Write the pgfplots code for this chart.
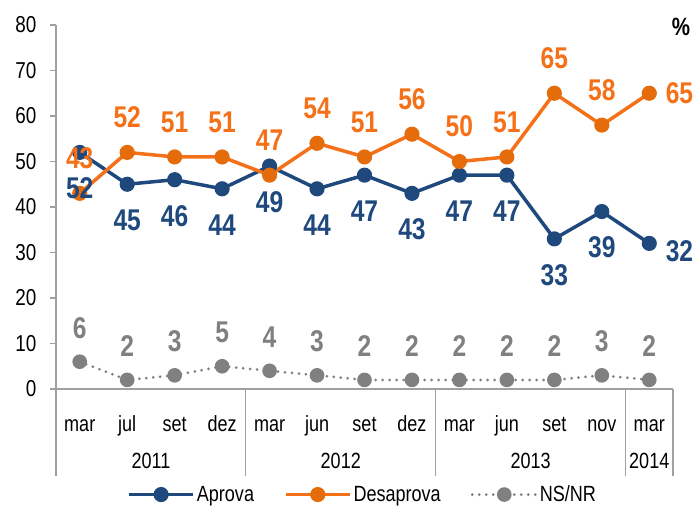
\documentclass[border=0pt]{standalone}
\usepackage{fontspec}
\setmainfont{Liberation Sans}[FakeStretch=0.82]
\usepackage{pgfplots}
\pgfplotsset{compat=1.18}
\definecolor{ablue}{RGB}{31,73,125}
\definecolor{dorange}{RGB}{245,113,25}
\definecolor{dorangem}{RGB}{228,108,10}
\definecolor{nsgray}{RGB}{128,128,128}
\definecolor{axgray}{RGB}{160,160,160}
\begin{document}
\begin{tikzpicture}
\path[use as bounding box] (-56pt,-119pt) rectangle (638pt,389pt);
\begin{axis}[
  at={(0pt,0pt)}, anchor=south west,
  scale only axis, width=617pt, height=364pt,
  xmin=-0.5, xmax=12.5, ymin=0, ymax=80,
  axis lines*=left,
  axis line style={axgray, line width=1.2pt},
  clip=false,
  xtick={0,...,12},
  xticklabels={mar,jul,set,dez,mar,jun,set,dez,mar,jun,set,nov,mar},
  x tick style={draw=none},
  xticklabel style={anchor=base, yshift=-37pt, font=\fontsize{22}{24}\selectfont},
  ytick={0,10,...,80},
  y tick style={axgray, line width=1.2pt},
  tick align=outside, major tick length=6pt,
  yticklabel style={xshift=-10pt, font=\fontsize{23}{25}\selectfont},
  /pgf/number format/assume math mode=true,
  legend style={at={(0.497,-0.29)}, anchor=center, draw=none, fill=none,
    legend columns=3, font=\fontsize{22}{24}\selectfont,
    /tikz/every even column/.append style={column sep=28pt}},
  legend image code/.code={\draw[mark repeat=2,mark phase=2,#1] plot coordinates {(0pt,0pt) (32pt,0pt) (64pt,0pt)};},
]
% Aprova
\addplot[ablue, line width=3.5pt, mark=*, mark size=5.8pt, mark options={solid}]
  coordinates {(0,52)(1,45)(2,46)(3,44)(4,49)(5,44)(6,47)(7,43)(8,47)(9,47)(10,33)(11,39)(12,32)};
\addlegendentry{Aprova}
% Desaprova
\addplot[dorange, line width=3.5pt, mark=*, mark size=5.8pt, mark options={solid, fill=dorangem, draw=dorangem}]
  coordinates {(0,43)(1,52)(2,51)(3,51)(4,47)(5,54)(6,51)(7,56)(8,50)(9,51)(10,65)(11,58)(12,65)};
\addlegendentry{Desaprova}
% NS/NR
\addplot[nsgray, line width=3pt, line cap=round, dash pattern=on 0pt off 7pt, mark=*, mark size=5.8pt, mark options={solid}]
  coordinates {(0,6)(1,2)(2,3)(3,5)(4,4)(5,3)(6,2)(7,2)(8,2)(9,2)(10,2)(11,3)(12,2)};
\addlegendentry{NS/NR}

% labels
\addplot[forget plot, draw=none, mark=none, nodes near coords,
  nodes near coords style={anchor=center, yshift=-36pt, text=ablue, font=\bfseries\fontsize{30}{32}\selectfont},
  /pgf/number format/assume math mode=true]
  coordinates {(0,52)(1,45)(2,46)(3,44)(4,49)(5,44)(6,47)(7,43)(8,47)(9,47)(10,33)(11,39)};
\addplot[forget plot, draw=none, mark=none, nodes near coords,
  nodes near coords style={anchor=west, xshift=13pt, yshift=-8pt, text=ablue, font=\bfseries\fontsize{30}{32}\selectfont},
  /pgf/number format/assume math mode=true]
  coordinates {(12,32)};
\addplot[forget plot, draw=none, mark=none, nodes near coords,
  nodes near coords style={anchor=center, yshift=35pt, text=dorange, font=\bfseries\fontsize{30}{32}\selectfont},
  /pgf/number format/assume math mode=true]
  coordinates {(0,43)(1,52)(2,51)(3,51)(4,47)(5,54)(6,51)(7,56)(8,50)(9,51)(10,65)(11,58)};
\addplot[forget plot, draw=none, mark=none, nodes near coords,
  nodes near coords style={anchor=west, xshift=13pt, yshift=0pt, text=dorange, font=\bfseries\fontsize{30}{32}\selectfont},
  /pgf/number format/assume math mode=true]
  coordinates {(12,65)};
\addplot[forget plot, draw=none, mark=none, nodes near coords,
  nodes near coords style={anchor=center, yshift=34pt, text=nsgray, font=\bfseries\fontsize{30}{32}\selectfont},
  /pgf/number format/assume math mode=true]
  coordinates {(0,6)(1,2)(2,3)(3,5)(4,4)(5,3)(6,2)(7,2)(8,2)(9,2)(10,2)(11,3)(12,2)};

% group separators
\pgfplotsinvokeforeach{-0.5,3.5,7.5,11.5,12.5}{
  \draw[axgray, line width=1.2pt] (axis cs:#1,0) -- ++(0pt,-87pt);
}
\node[font=\fontsize{22}{24}\selectfont] at (axis cs:1.5,0) [yshift=-72pt] {2011};
\node[font=\fontsize{22}{24}\selectfont] at (axis cs:5.5,0) [yshift=-72pt] {2012};
\node[font=\fontsize{22}{24}\selectfont] at (axis cs:9.5,0) [yshift=-72pt] {2013};
\node[font=\fontsize{22}{24}\selectfont] at (axis cs:12,0) [yshift=-72pt] {2014};
\node[font=\bfseries\fontsize{25}{27}\selectfont] at (rel axis cs:1,1) [xshift=8pt, yshift=-2pt] {\%};
\end{axis}
\end{tikzpicture}
\end{document}
